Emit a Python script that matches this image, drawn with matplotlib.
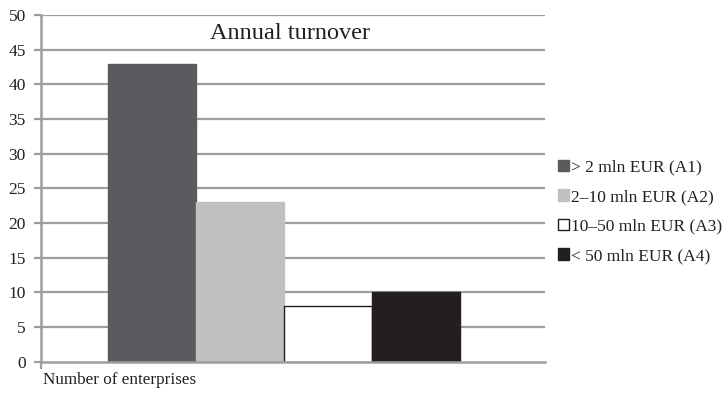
import matplotlib.pyplot as plt
from matplotlib.patches import Patch

plt.rcParams['font.family'] = ['Liberation Serif', 'DejaVu Serif']

categories = ["> 2 mln EUR (A1)", "2\u201310 mln EUR (A2)",
              "10\u201350 mln EUR (A3)", "< 50 mln EUR (A4)"]
counts = [43, 23, 8, 10]
colors = ["#5a5b5e", "#bfc0c2", "#ffffff", "#231f20"]
edges = ["#5a5b5e", "#bfc0c2", "#231f20", "#231f20"]
yticks = list(range(0, 51, 5))

grid_c = "#9d9d9f"

fig = plt.figure(figsize=(7.26, 3.93), dpi=100)
ax = fig.add_axes([0.0565, 0.0796, 0.694, 0.8822])

for gy in yticks[1:]:
    ax.axhline(gy, color=grid_c, lw=1.6, zorder=1)

x = list(range(len(counts)))
ax.bar(x, counts, width=1.0, color=colors, edgecolor=edges, linewidth=1.0, zorder=2)

ax.set_xlim(-1.261, 4.466)
ax.set_ylim(0, 50)
ax.set_yticks(yticks)
ax.set_xticks([-1.261])
ax.set_xticklabels([])

for s in ["top", "right"]:
    ax.spines[s].set_visible(False)
for s in ["left", "bottom"]:
    ax.spines[s].set_color(grid_c)
    ax.spines[s].set_linewidth(1.8)
    ax.spines[s].set_zorder(3)

ax.tick_params(axis="y", length=5, width=1.6, color=grid_c, labelsize=12.5, pad=6,
               labelcolor="#231f20")
ax.tick_params(axis="x", length=5, width=1.6, color=grid_c)

ax.text(0.494, 47.4, "Annual turnover", transform=ax.get_yaxis_transform(),
        ha="center", va="center", fontsize=17.5, color="#231f20")
ax.text(0.004, -0.03, "Number of enterprises", transform=ax.transAxes,
        ha="left", va="top", fontsize=12.3, color="#231f20")

handles = [Patch(facecolor=c, edgecolor=e, linewidth=1.0) for c, e in zip(colors, edges)]
fig.legend(handles, categories, loc="upper left", bbox_to_anchor=(0.768, 0.594),
           frameon=False, fontsize=12.5, handlelength=0.65, handleheight=0.65,
           handletextpad=0.1, labelspacing=0.78, borderaxespad=0, borderpad=0,
           labelcolor="#231f20")

fig.savefig("out.png", dpi=100)
